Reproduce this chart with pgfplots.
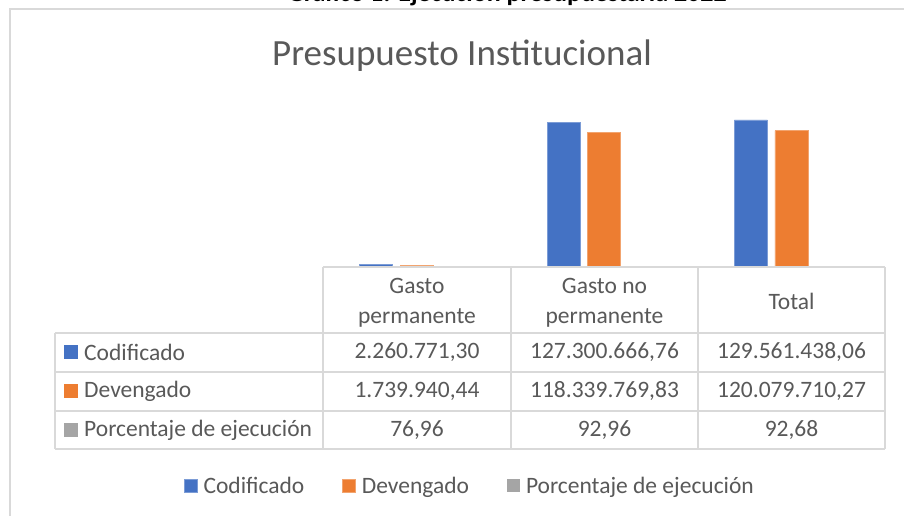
\documentclass[border=0pt]{standalone}
\usepackage{fontspec}
\setmainfont{Carlito}
\usepackage{pgfplots}
\pgfplotsset{compat=1.18}
\definecolor{cblue}{HTML}{4472C4}
\definecolor{corange}{HTML}{ED7D31}
\definecolor{cgray}{HTML}{A5A5A5}
\definecolor{txt}{HTML}{595959}
\definecolor{grid}{HTML}{D9D9D9}
\begin{document}
\begin{tikzpicture}[x=1pt,y=1pt]
\useasboundingbox (0,0) rectangle (904,515);
\fill[white] (0,0) rectangle (904,515);
% cut-off heading
\begin{scope}
\clip (0,507) rectangle (904,515);
\node[anchor=base, font=\fontsize{26}{30}\selectfont\bfseries, text=black] at (507,513) {Gráfico 1: Ejecución presupuestaria 2022};
\end{scope}
% outer frame
\draw[grid, line width=1.5pt] (10,-5) -- (10,506) -- (910,506);
% title
\node[font=\fontsize{37}{41}\selectfont, text=txt] at (462,459) {Presupuesto Institucional};
\begin{axis}[
  at={(323pt,248pt)}, anchor=south west,
  scale only axis, width=562pt, height=159pt,
  xmin=-0.5, xmax=2.5, ymin=0, ymax=140000000,
  hide axis,
  bar width=33pt,
  legend columns=3,
  legend style={draw=none, fill=none, at={(0.2615,-1.377)}, anchor=center,
    font=\fontsize{23.5}{28}\selectfont, text=txt,
    /tikz/every even column/.append style={column sep=36pt}},
  legend image code/.code={\fill[#1] (0pt,-6.5pt) rectangle (13pt,6.5pt); \path (17pt,0pt);},
]
\addplot[ybar, bar shift=-40.5pt, fill=cblue, draw=cblue!70!white, line width=0.5pt] coordinates {(0,2260771.30) (1,127300666.76) (2,129561438.06)};
\addlegendentry{Codificado}
\addplot[ybar, bar shift=0pt, fill=corange, draw=corange!70!white, line width=0.5pt] coordinates {(0,1739940.44) (1,118339769.83) (2,120079710.27)};
\addlegendentry{Devengado}
\addplot[ybar, bar shift=40.5pt, fill=cgray, draw=none] coordinates {(0,76.96) (1,92.96) (2,92.68)};
\addlegendentry{Porcentaje de ejecución}
\end{axis}
% data table
\begin{scope}[grid, line width=1.5pt]
\draw (323,248) -- (885,248);
\foreach \yy in {182,143,104,66} {\draw (55,\yy) -- (885,\yy);}
\draw (55,182) -- (55,66);
\foreach \xx in {323,511,698,885} {\draw (\xx,248) -- (\xx,66);}
\end{scope}
\begin{scope}[every node/.style={font=\fontsize{23.5}{30}\selectfont, text=txt, align=center}]
\node at (417,212) {Gasto\\permanente};
\node at (604.5,212) {Gasto no\\permanente};
\node at (791.5,214) {Total};
\node at (417,163) {2.260.771,30};
\node at (604.5,163) {127.300.666,76};
\node at (791.5,163) {129.561.438,06};
\node at (417,124) {1.739.940,44};
\node at (604.5,124) {118.339.769,83};
\node at (791.5,124) {120.079.710,27};
\node at (417,85) {76,96};
\node at (604.5,85) {92,96};
\node at (791.5,85) {92,68};
\node[anchor=west, inner sep=0pt] at (84,163) {Codificado};
\node[anchor=west, inner sep=0pt] at (84,124) {Devengado};
\node[anchor=west, inner sep=0pt] at (84,85) {Porcentaje de ejecución};
\end{scope}
\fill[cblue] (64,156) rectangle (78,170);
\fill[corange] (64,117) rectangle (78,131);
\fill[cgray] (64,78) rectangle (78,92);
\end{tikzpicture}
\end{document}
